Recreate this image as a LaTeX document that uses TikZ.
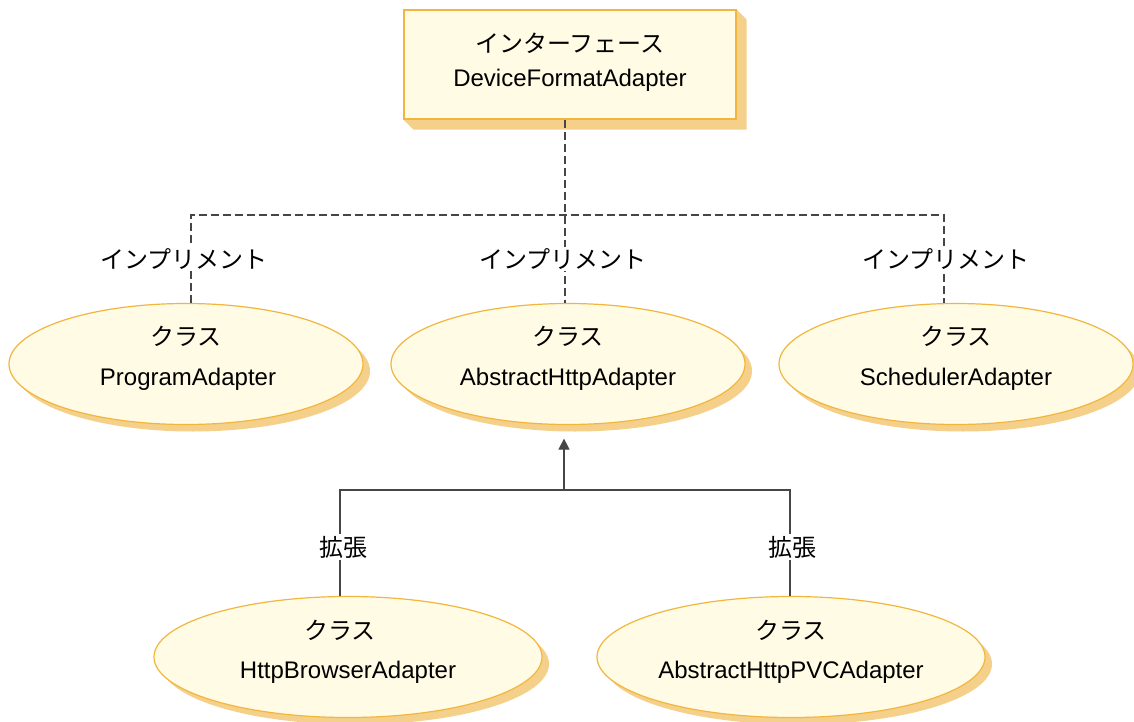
\documentclass[tikz,border=0pt]{standalone}
\usepackage{fontspec}
\setmainfont{Liberation Sans}
\newfontfamily\jp{Noto Sans CJK JP}
\usetikzlibrary{arrows.meta,shadows,shapes.geometric,backgrounds}
\definecolor{fillY}{RGB}{255,251,228}
\definecolor{edgeY}{RGB}{242,182,62}
\definecolor{shadY}{RGB}{245,208,138}
\definecolor{lineG}{RGB}{70,70,70}
\begin{document}
\begin{tikzpicture}[x=1pt,y=-1pt,
 cls/.style={ellipse, draw=edgeY, fill=fillY, line width=1.2pt, inner sep=0pt,
   minimum width=354pt, minimum height=121pt,
   drop shadow={shadow xshift=7pt, shadow yshift=-7pt, fill=shadY, opacity=1}},
 wide/.style={minimum width=388pt},
 jpt/.style={font=\jp\fontsize{24}{24}\selectfont, inner sep=1pt},
 ent/.style={font=\fontsize{24}{24}\selectfont, inner sep=1pt},
 impl/.style={draw=lineG, line width=1.1pt, dash pattern=on 8pt off 4pt},
 ext/.style={draw=lineG, line width=1.1pt},
 lbl/.style={font=\jp\fontsize{24}{24}\selectfont, fill=white, inner sep=2pt}]
\useasboundingbox (0,0) rectangle (1134,722);

% interface box
\node[draw=edgeY, fill=fillY, line width=1.2pt, minimum width=332pt,
  minimum height=109pt, inner sep=0pt] (ifc) at (570,64.5) {};
\begin{pgfonlayer}{background}
\fill[white] (0,0) rectangle (1134,722);
\fill[shadY] (ifc.north east) -- ++(10,10) -- ([shift={(10,10)}]ifc.south east)
  -- ([shift={(10,10)}]ifc.south west) -- (ifc.south west) -- cycle;
\end{pgfonlayer}
\node[jpt] (t0a) at (570,43) {インターフェース};
\node[ent] (t0b) at (570,80) {DeviceFormatAdapter};

% classes
\node[cls] (pa) at (186,364) {};
\node[cls] (ab) at (568,364) {};
\node[cls] (sa) at (956,364) {};
\node[cls,wide] (hb) at (348,657) {};
\node[cls,wide] (ap) at (791,657) {};

\node[jpt] (t1a) at (186,336) {クラス};
\node[ent] (t1b) at (188,379) {ProgramAdapter};
\node[jpt] (t2a) at (568,336) {クラス};
\node[ent] (t2b) at (568,379) {AbstractHttpAdapter};
\node[jpt] (t3a) at (956,336) {クラス};
\node[ent] (t3b) at (956,379) {SchedulerAdapter};
\node[jpt] (t4a) at (340,630) {クラス};
\node[ent] (t4b) at (348,672) {HttpBrowserAdapter};
\node[jpt] (t5a) at (791,630) {クラス};
\node[ent] (t5b) at (791,672) {AbstractHttpPVCAdapter};

% implements connectors
\coordinate (jm) at (565,215);
\coordinate (xl) at (191,0);
\coordinate (xr) at (944,0);
\draw[impl] (ifc.south -| jm) -- (ab.north -| jm);
\draw[impl] (pa.north -| xl) |- (jm) -| (sa.north -| xr);
\node[lbl] (i1) at (184,259) {インプリメント};
\node[lbl] (i2) at (563,259) {インプリメント};
\node[lbl] (i3) at (946,259) {インプリメント};

% extends connectors
\coordinate (je) at (564,490);
\coordinate (xbl) at (340,0);
\coordinate (xbr) at (790,0);
\draw[ext,-{Triangle[width=11pt,length=11pt]},shorten >=13.5pt] (je) -- (ab.south -| je);
\draw[ext] (hb.north -| xbl) |- (je) -| (ap.north -| xbr);
\node[lbl] (e1) at (343,547) {拡張};
\node[lbl] (e2) at (792,547) {拡張};
\end{tikzpicture}
\end{document}
